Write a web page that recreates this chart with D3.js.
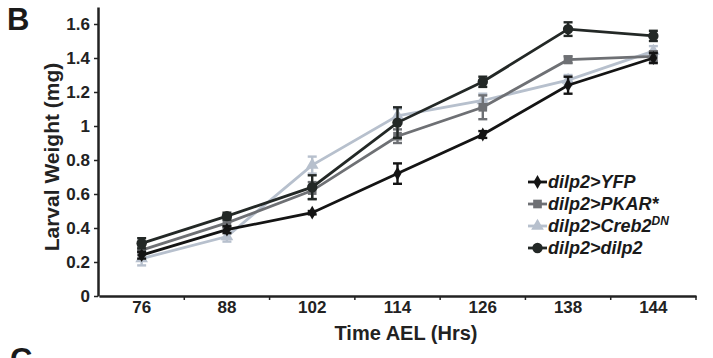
<!DOCTYPE html>
<html>
<head>
<meta charset="utf-8">
<script src="https://cdn.jsdelivr.net/npm/d3@7"></script>
<style>
  body { margin: 0; background: #fff; }
  svg { display: block; font-family: "Liberation Sans", Arial, sans-serif; }
  .tick text { font-weight: bold; fill: #222; }
</style>
</head>
<body>
<div class="chart"></div>
<script>
// Larval weight over time, panel B

// Data
let hours = ['76', '88', '102', '114', '126', '138', '144'];
let yTicks = [0, 0.2, 0.4, 0.6, 0.8, 1, 1.2, 1.4, 1.6];

let yfpMean   = [0.24, 0.39, 0.49, 0.72, 0.95, 1.24, 1.40];
let yfpErr    = [0.02, 0.02, 0.01, 0.06, 0.02, 0.05, 0.03];
let pkarMean  = [0.27, 0.43, 0.62, 0.94, 1.11, 1.39, 1.41];
let pkarErr   = [0.03, 0.03, 0.05, 0.04, 0.07, 0.02, 0.03];
let crebMean  = [0.22, 0.35, 0.77, 1.06, 1.15, 1.27, 1.44];
let crebErr   = [0.04, 0.03, 0.05, 0.04, 0.04, 0.03, 0.03];
let dilpMean  = [0.31, 0.47, 0.64, 1.02, 1.26, 1.57, 1.53];
let dilpErr   = [0.03, 0.02, 0.07, 0.09, 0.03, 0.04, 0.03];

// series, drawn back to front
let series = [
  {name: 'dilp2>Creb2', sup: 'DN', mean: crebMean, err: crebErr, color: '#b7c0cd', marker: d3.symbolTriangle, size: 70},
  {name: 'dilp2>PKAR*', sup: '', mean: pkarMean, err: pkarErr, color: '#6e7074', marker: d3.symbolSquare, size: 75},
  {name: 'dilp2>YFP', sup: '', mean: yfpMean, err: yfpErr, color: '#141414', marker: d3.symbolDiamond, size: 55},
  {name: 'dilp2>dilp2', sup: '', mean: dilpMean, err: dilpErr, color: '#232826', marker: d3.symbolCircle, size: 85}
];
let legendOrder = ['dilp2>YFP', 'dilp2>PKAR*', 'dilp2>Creb2', 'dilp2>dilp2'];

let width = 713, height = 358;

let svg = d3.select('.chart')
  .append('svg')
  .attr('width', width)
  .attr('height', height);

// scales
let xScale = d3.scaleBand().domain(hours).range([99, 696]);
let yScale = d3.scaleLinear().domain([0, 1.7]).range([296, 7]);
let cx = function(h) { return xScale(h) + xScale.bandwidth() / 2; };

// y axis
let yAxis = d3.axisLeft(yScale)
  .tickValues(yTicks)
  .tickSize(4)
  .tickSizeOuter(0)
  .tickPadding(4)
  .tickFormat(d3.format('~g'));

let gy = svg.append('g')
  .attr('transform', 'translate(98,0)')
  .call(yAxis);
gy.select('.domain').attr('stroke', '#222').attr('stroke-width', 2.5);
gy.selectAll('.tick line').attr('stroke', '#222').attr('stroke-width', 1.5);
gy.selectAll('.tick text').style('font-size', '17px');

// x axis: labels centred on bands, ticks on band edges
let xAxis = d3.axisBottom(xScale).tickSize(0).tickSizeOuter(0).tickPadding(5);
let gx = svg.append('g')
  .attr('transform', 'translate(0,296)')
  .call(xAxis);
gx.select('.domain').attr('stroke', '#222').attr('stroke-width', 2.5);
gx.selectAll('.tick text').style('font-size', '17px');

let edges = hours.slice(1).map(function(h) { return xScale(h); });
edges.push(xScale.range()[1]);
gx.selectAll('.edge')
  .data(edges)
  .enter().append('line')
  .attr('class', 'edge')
  .attr('x1', function(d) { return d; })
  .attr('x2', function(d) { return d; })
  .attr('y1', 0)
  .attr('y2', 4)
  .attr('stroke', '#222')
  .attr('stroke-width', 1.5);

// axis titles
svg.append('text')
  .attr('transform', 'translate(59,157) rotate(-90)')
  .attr('text-anchor', 'middle')
  .style('font-size', '21px')
  .style('font-weight', 'bold')
  .attr('fill', '#222')
  .text('Larval Weight (mg)');

svg.append('text')
  .attr('x', 406)
  .attr('y', 340)
  .attr('text-anchor', 'middle')
  .style('font-size', '20px')
  .style('font-weight', 'bold')
  .attr('fill', '#222')
  .text('Time AEL (Hrs)');

// panel letters
svg.append('text').attr('x', 7).attr('y', 30)
  .style('font-size', '31px').style('font-weight', 'bold').attr('fill', '#1a1a1a').text('B');
svg.append('text').attr('x', 10).attr('y', 370)
  .style('font-size', '31px').style('font-weight', 'bold').attr('fill', '#1a1a1a').text('C');

// lines, error bars, markers
let line = d3.line()
  .x(function(d) { return cx(d.h); })
  .y(function(d) { return yScale(d.v); });

series.forEach(function(s) {
  let pts = hours.map(function(h, i) { return {h: h, v: s.mean[i], e: s.err[i]}; });
  let g = svg.append('g');

  g.append('path')
    .datum(pts)
    .attr('d', line)
    .attr('fill', 'none')
    .attr('stroke', s.color)
    .attr('stroke-width', 2.8);

  let eb = g.selectAll('.err')
    .data(pts)
    .enter().append('g')
    .attr('class', 'err')
    .attr('stroke', s.color)
    .attr('stroke-width', 2.4);
  eb.append('line')
    .attr('x1', function(d) { return cx(d.h); })
    .attr('x2', function(d) { return cx(d.h); })
    .attr('y1', function(d) { return yScale(d.v - d.e); })
    .attr('y2', function(d) { return yScale(d.v + d.e); });
  [-1, 1].forEach(function(sign) {
    eb.append('line')
      .attr('x1', function(d) { return cx(d.h) - 4.5; })
      .attr('x2', function(d) { return cx(d.h) + 4.5; })
      .attr('y1', function(d) { return yScale(d.v + sign * d.e); })
      .attr('y2', function(d) { return yScale(d.v + sign * d.e); });
  });

  g.selectAll('.mk')
    .data(pts)
    .enter().append('path')
    .attr('class', 'mk')
    .attr('d', d3.symbol().type(s.marker).size(s.size))
    .attr('transform', function(d) { return 'translate(' + cx(d.h) + ',' + yScale(d.v) + ')'; })
    .attr('fill', s.color);
});

// legend
let legend = svg.append('g');
legendOrder.forEach(function(name, i) {
  let s = series.find(function(d) { return d.name === name; });
  let y = 182 + i * 22;
  legend.append('line')
    .attr('x1', 528).attr('x2', 547)
    .attr('y1', y).attr('y2', y)
    .attr('stroke', s.color).attr('stroke-width', 2.8);
  legend.append('path')
    .attr('d', d3.symbol().type(s.marker).size(s.size))
    .attr('transform', 'translate(537.5,' + y + ')')
    .attr('fill', s.color);
  let t = legend.append('text')
    .attr('x', 548)
    .attr('y', y + 6)
    .style('font-size', '18px')
    .style('font-weight', 'bold')
    .style('font-style', 'italic')
    .attr('fill', '#1a1a1a')
    .text(s.name);
  if (s.sup) {
    t.append('tspan')
      .attr('dy', -7)
      .style('font-size', '12px')
      .text(s.sup);
  }
});
</script>
</body>
</html>
